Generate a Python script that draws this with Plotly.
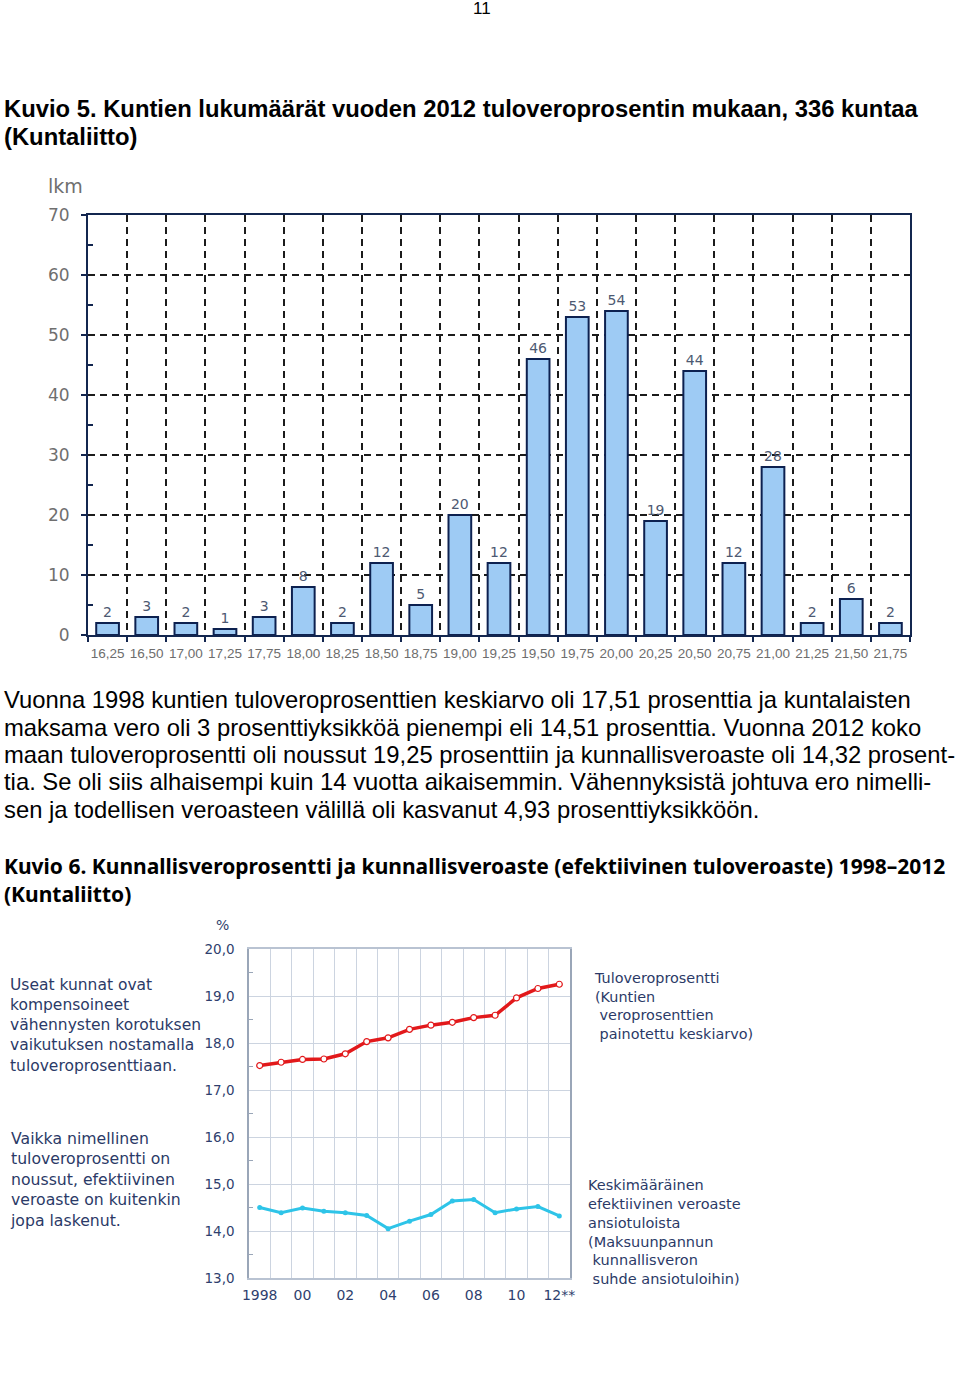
import plotly.graph_objects as go

W, H = 960, 1377

# ---- Data: chart 1 (Kuvio 5) ----
rate_labels = ["16,25", "16,50", "17,00", "17,25", "17,75", "18,00", "18,25", "18,50",
               "18,75", "19,00", "19,25", "19,50", "19,75", "20,00", "20,25", "20,50",
               "20,75", "21,00", "21,25", "21,50", "21,75"]
municipality_counts = [2, 3, 2, 1, 3, 8, 2, 12, 5, 20, 12, 46, 53, 54, 19, 44, 12, 28, 2, 6, 2]
count_ticks = [0, 10, 20, 30, 40, 50, 60, 70]

# ---- Data: chart 2 (Kuvio 6) ----
years = ["1998", "1999", "2000", "2001", "2002", "2003", "2004", "2005", "2006", "2007",
         "2008", "2009", "2010", "2011", "2012"]
year_ticktext = ["1998", "", "00", "", "02", "", "04", "", "06", "", "08", "", "10", "", "12**"]
income_tax_rate = [17.52, 17.59, 17.65, 17.66, 17.77, 18.03, 18.11, 18.29, 18.38, 18.44,
                   18.54, 18.59, 18.96, 19.16, 19.25]
effective_rate = [14.50, 14.39, 14.49, 14.42, 14.39, 14.33, 14.05, 14.21, 14.35, 14.64,
                  14.67, 14.39, 14.47, 14.52, 14.32]
pct_ticks = [13, 14, 15, 16, 17, 18, 19, 20]
pct_ticktext = ["13,0", "14,0", "15,0", "16,0", "17,0", "18,0", "19,0", "20,0"]


def px_x(px):
    return px / W


def px_y(py):
    return 1 - py / H


fig = go.Figure()

fig.add_trace(go.Bar(
    x=rate_labels, y=municipality_counts,
    marker=dict(color="#9ecbf4", line=dict(color="#0d2150", width=2)),
    text=[str(v) for v in municipality_counts], textposition="outside",
    textfont=dict(family="DejaVu Sans", size=14, color="#4d5972"),
    cliponaxis=False, xaxis="x", yaxis="y", showlegend=False,
))

fig.add_trace(go.Scatter(
    x=years, y=income_tax_rate, mode="lines+markers",
    line=dict(color="#e2191b", width=3.5),
    marker=dict(symbol="circle", size=6, color="white", line=dict(color="#e2191b", width=1.2)),
    xaxis="x2", yaxis="y2", showlegend=False,
))
fig.add_trace(go.Scatter(
    x=years, y=effective_rate, mode="lines+markers",
    line=dict(color="#2ec4e8", width=3),
    marker=dict(symbol="circle", size=5, color="#2ec4e8"),
    xaxis="x2", yaxis="y2", showlegend=False,
))

grid_dash = "7px,5px"
fig.update_layout(
    width=W, height=H, margin=dict(l=0, r=0, t=0, b=0, autoexpand=False),
    paper_bgcolor="white", plot_bgcolor="white",
    bargap=0.42,
    xaxis=dict(domain=[px_x(88), px_x(910)], type="category", tickson="boundaries",
               range=[-0.5, len(rate_labels) - 0.5],
               showgrid=True, gridcolor="#1b1b1b", gridwidth=1.5, griddash=grid_dash,
               showline=True, linecolor="#13264f", linewidth=2, mirror=True,
               ticks="outside", ticklen=5, tickcolor="#13264f", tickwidth=1.5,
               ticklabelstandoff=5,
               tickangle=0, tickfont=dict(family="Liberation Sans", size=13.5, color="#6d6d6d"),
               anchor="y", zeroline=False, automargin=False),
    yaxis=dict(domain=[px_y(635), px_y(215)], range=[0, 70], tickvals=count_ticks,
               showgrid=True, gridcolor="#1b1b1b", gridwidth=1.5, griddash=grid_dash,
               showline=True, linecolor="#13264f", linewidth=2, mirror=True,
               ticks="outside", ticklen=5, tickcolor="#13264f", tickwidth=1.5,
               ticklabelstandoff=8,
               tickfont=dict(family="DejaVu Sans", size=17, color="#6f6f6f"),
               minor=dict(tickvals=[5, 15, 25, 35, 45, 55, 65], ticks="inside", ticklen=5,
                          tickcolor="#13264f", showgrid=False),
               anchor="x", zeroline=False, automargin=False),
    xaxis2=dict(domain=[px_x(249), px_x(570)], type="category", tickson="boundaries",
                range=[-0.5, len(years) - 0.5],
                tickvals=years, ticktext=year_ticktext,
                showgrid=True, gridcolor="#ccd4e0", gridwidth=1,
                showline=True, linecolor="#b9c3d2", linewidth=1.5, mirror=True,
                ticks="", tickangle=0, ticklabelstandoff=3,
                tickfont=dict(family="DejaVu Sans", size=14, color="#2f3f6e"),
                anchor="y2", zeroline=False, automargin=False),
    yaxis2=dict(domain=[px_y(1278), px_y(949)], range=[13, 20],
                tickvals=pct_ticks, ticktext=pct_ticktext,
                showgrid=True, gridcolor="#ccd4e0", gridwidth=1,
                showline=True, linecolor="#9aa6b8", linewidth=1.5, mirror=True,
                ticks="", ticklabelstandoff=10,
                tickfont=dict(family="DejaVu Sans", size=13.5, color="#2f3f6e"),
                minor=dict(tickvals=[13.5, 14.5, 15.5, 16.5, 17.5, 18.5, 19.5], ticks="inside",
                           ticklen=4, tickcolor="#9aa6b8", showgrid=False),
                anchor="x2", zeroline=False, automargin=False),
)

annotations = []


def txt(px, py, s, size, color="#000000", family="Liberation Sans", bold=False,
        xanchor="left", yanchor="middle"):
    if bold:
        s = "<b>" + s + "</b>"
    annotations.append(dict(x=px_x(px), y=px_y(py), xref="paper", yref="paper", text=s,
                            showarrow=False, xanchor=xanchor, yanchor=yanchor, align="left",
                            borderpad=0,
                            font=dict(family=family, size=size, color=color)))


def block(px, py_first, lines, size, color, family):
    # multi-line note; py_first is the centre of the first line
    n = len(lines)
    lh = size * 1.3
    centre = py_first + (n - 1) * lh / 2
    txt(px, centre, "<br>".join(lines), size, color=color, family=family)


# page number
txt(482, 9, "11", 17, xanchor="center")

# Kuvio 5 caption
txt(3, 109, "Kuvio 5. Kuntien lukumäärät vuoden 2012 tuloveroprosentin mukaan, 336 kuntaa", 23.8, bold=True)
txt(3, 136, "(Kuntaliitto)", 23.8, bold=True)

# axis unit label chart 1
txt(47, 186, "lkm", 19, color="#6f6f6f", family="DejaVu Sans")

# paragraph
para = [
    "Vuonna 1998 kuntien tuloveroprosenttien keskiarvo oli 17,51 prosenttia ja kuntalaisten",
    "maksama vero oli 3 prosenttiyksikköä pienempi eli 14,51 prosenttia. Vuonna 2012 koko",
    "maan tuloveroprosentti oli noussut 19,25 prosenttiin ja kunnallisveroaste oli 14,32 prosent-",
    "tia. Se oli siis alhaisempi kuin 14 vuotta aikaisemmin. Vähennyksistä johtuva ero nimelli-",
    "sen ja todellisen veroasteen välillä oli kasvanut 4,93 prosenttiyksikköön.",
]
for i, line in enumerate(para):
    txt(3, 700 + i * 27.3, line, 23.8)

# Kuvio 6 caption
txt(3, 866, "Kuvio 6. Kunnallisveroprosentti ja kunnallisveroaste (efektiivinen tuloveroaste) 1998–2012",
    21, bold=True, family="Noto Sans")
txt(3, 894, "(Kuntaliitto)", 21, bold=True, family="Noto Sans")

# chart 2 unit
txt(222, 925, "%", 14, color="#2f3f6e", family="DejaVu Sans", xanchor="center")

navy = "#2b3a67"
block(9, 985, ["Useat kunnat ovat", "kompensoineet", "vähennysten korotuksen",
               "vaikutuksen nostamalla", "tuloveroprosenttiaan."], 15.5, navy, "DejaVu Sans")
block(9, 1139, ["Vaikka nimellinen", "tuloveroprosentti on", "noussut, efektiivinen",
                "veroaste on kuitenkin", "jopa laskenut."], 15.7, navy, "DejaVu Sans")
block(593, 978, ["Tuloveroprosentti", "(Kuntien", " veroprosenttien",
                 " painotettu keskiarvo)"], 14.4, navy, "DejaVu Sans")
block(587, 1185, ["Keskimääräinen", "efektiivinen veroaste", "ansiotuloista", "(Maksuunpannun",
                  " kunnallisveron", " suhde ansiotuloihin)"], 14.5, navy, "DejaVu Sans")

fig.update_layout(annotations=annotations)
fig.write_html("out.html", config={"displayModeBar": False},
               post_script="document.body.style.margin='0';")
